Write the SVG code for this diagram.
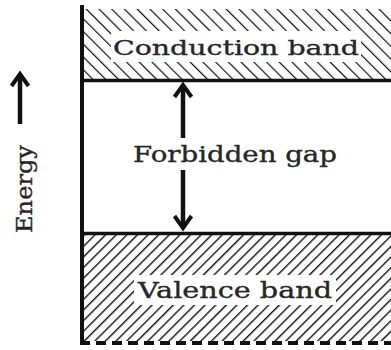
<svg xmlns="http://www.w3.org/2000/svg" width="391" height="350" viewBox="0 0 391 350">
<style>
.t{font-family:"DejaVu Serif","Liberation Serif",serif;fill:#262626;stroke:#262626;stroke-width:0.35;}
.ln{stroke:#111;fill:none;}
.arr{stroke:#111;stroke-width:4.5;fill:none;stroke-linecap:butt;}
.head{stroke:#111;stroke-width:4;fill:none;stroke-linejoin:miter;stroke-linecap:butt;}
</style>
<defs>
<pattern id="hatchC" width="9" height="9" patternUnits="userSpaceOnUse" patternTransform="rotate(-45)">
<line x1="0" y1="0" x2="0" y2="9" stroke="#111" stroke-width="2.4"/>
</pattern>
<pattern id="hatchV" width="7.5" height="7.5" patternUnits="userSpaceOnUse" patternTransform="rotate(45)">
<line x1="0" y1="0" x2="0" y2="7.5" stroke="#111" stroke-width="2.8"/>
</pattern>
</defs>
<rect width="391" height="350" fill="#fff"/>
<g id="conduction">
<rect x="84" y="9" width="307" height="70" fill="url(#hatchC)"/>
<rect x="111" y="31" width="250" height="31" fill="#fff"/>
<text class="t" x="236" y="55" font-size="21" text-anchor="middle" textLength="246" lengthAdjust="spacingAndGlyphs">Conduction band</text>
</g>
<g id="valence">
<rect x="84" y="235" width="307" height="106" fill="url(#hatchV)"/>
<rect x="134" y="275" width="202" height="30" fill="#fff"/>
<text class="t" x="235" y="298" font-size="22" text-anchor="middle" textLength="194" lengthAdjust="spacingAndGlyphs">Valence band</text>
</g>
<g id="gap">
<text class="t" x="235" y="162" font-size="22" text-anchor="middle" textLength="204" lengthAdjust="spacingAndGlyphs">Forbidden gap</text>
</g>
<g id="energy">
<text class="t" transform="translate(32,189) rotate(-90)" font-size="22" text-anchor="middle" textLength="88" lengthAdjust="spacingAndGlyphs">Energy</text>
</g>
<g id="connectors">
<line class="ln" x1="82" y1="5" x2="82" y2="345" stroke-width="4"/>
<line class="ln" x1="80" y1="80.5" x2="391" y2="80.5" stroke-width="3.5"/>
<line class="ln" x1="80" y1="233.5" x2="391" y2="233.5" stroke-width="3.5"/>
<line class="ln" x1="80" y1="343" x2="391" y2="343" stroke-width="4" stroke-dasharray="10 6"/>
<line class="arr" x1="20" y1="124" x2="20" y2="76"/>
<path class="head" d="M11.5,86 L20,74 L28.5,86"/>
<line class="arr" x1="183" y1="138" x2="183" y2="87"/>
<path class="head" d="M174.5,97 L183,85 L191.5,97"/>
<line class="arr" x1="183" y1="170" x2="183" y2="226"/>
<path class="head" d="M174.5,216 L183,228 L191.5,216"/>
</g>
</svg>
